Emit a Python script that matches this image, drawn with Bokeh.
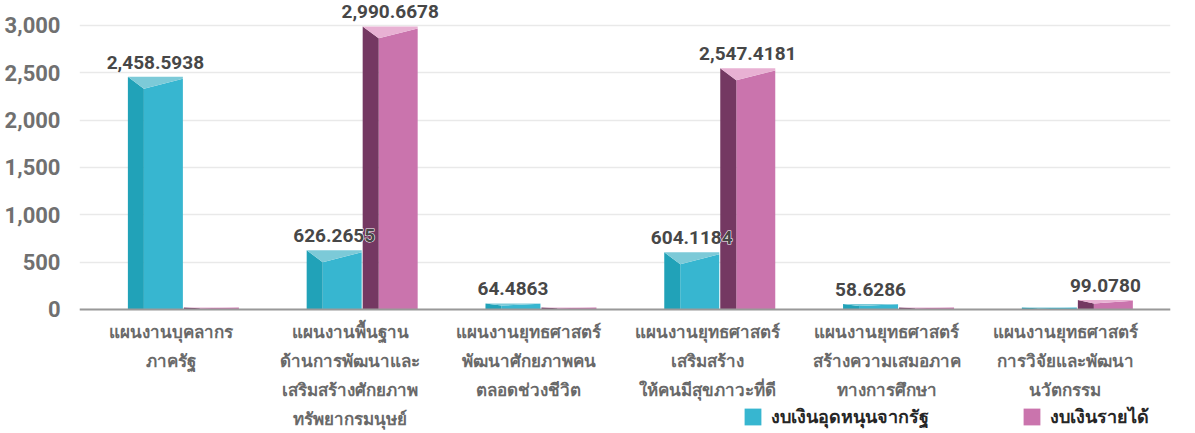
from bokeh.plotting import figure
from bokeh.models import ColumnDataSource, FixedTicker, Legend, LegendItem, NumeralTickFormatter, Span
from bokeh.core.properties import value
from bokeh.embed import file_html
from bokeh.resources import INLINE

categories = [
    "แผนงานบุคลากร\nภาครัฐ",
    "แผนงานพื้นฐาน\nด้านการพัฒนาและ\nเสริมสร้างศักยภาพ\nทรัพยากรมนุษย์",
    "แผนงานยุทธศาสตร์\nพัฒนาศักยภาพคน\nตลอดช่วงชีวิต",
    "แผนงานยุทธศาสตร์\nเสริมสร้าง\nให้คนมีสุขภาวะที่ดี",
    "แผนงานยุทธศาสตร์\nสร้างความเสมอภาค\nทางการศึกษา",
    "แผนงานยุทธศาสตร์\nการวิจัยและพัฒนา\nนวัตกรรม",
]
series_names = ["งบเงินอุดหนุนจากรัฐ", "งบเงินรายได้"]
subsidy = [2458.5938, 626.2655, 64.4863, 604.1184, 58.6286, 22.0]
income = [22.0, 2990.6678, 22.0, 2547.4181, 22.0, 99.0780]
subsidy_labels = ["2,458.5938", "626.2655", "64.4863", "604.1184", "58.6286", ""]
income_labels = ["", "2,990.6678", "", "2,547.4181", "", "99.0780"]
y_ticks = [0, 500, 1000, 1500, 2000, 2500, 3000]

NUM_FONT = "Roboto"
THAI_FONT = "Noto Sans"
W, H = 1195, 433
p = figure(width=W, height=H, output_backend="svg", toolbar_location=None,
           x_range=(-0.581, 5.521), y_range=(-1310, 3264),
           min_border_left=79, min_border_right=25, min_border_top=0, min_border_bottom=0)
p.outline_line_color = None
p.background_fill_color = "white"
p.xaxis.visible = False

# pixel helpers (approx)
px_x = 1.0 / 178.8
px_y = 1.0 / 0.094667

styles = [
    dict(front="#37b6d0", dark="#21a2b8", top="#7ccad8"),
    dict(front="#ca74ad", dark="#743862", top="#e8b1d3"),
]
hw = 27.5 * px_x
offsets = [-hw - 0.5 * px_x, hw + 0.5 * px_x]
dx = 16 * px_x
legend_items = []
label_sources = []
for s, (vals, labs, off, st, name) in enumerate(zip([subsidy, income], [subsidy_labels, income_labels], offsets, styles, series_names)):
    side_x, side_y, front_x, front_y, top_x, top_y = [], [], [], [], [], []
    for i, v in enumerate(vals):
        L = i + off - hw
        R = i + off + hw
        d = min(12 * px_y, v * 0.35)
        side_x.append([L, L, L + dx, L + dx]); side_y.append([0, v, v - d, 0])
        front_x.append([L + dx, L + dx, R, R]); front_y.append([0, v - d, v - d * 0.17, 0])
        top_x.append([L, R, R, L + dx]); top_y.append([v, v, v - d * 0.17, v - d])
    r_front = p.patches(front_x, front_y, fill_color=st["front"], line_color=None)
    p.patches(side_x, side_y, fill_color=st["dark"], line_color=None)
    p.patches(top_x, top_y, fill_color=st["top"], line_color=None)
    legend_items.append(LegendItem(label=name, renderers=[r_front]))
    label_sources.append(ColumnDataSource(dict(x=[i + off for i in range(len(vals))], y=vals, t=labs)))

# value labels: white halo underneath, then the text
for src in label_sources:
    p.text(x="x", y="y", text="t", source=src, text_align="center", text_baseline="bottom",
           y_offset=-8, text_font=value(NUM_FONT), text_font_size="19px", text_font_style="bold",
           text_color="white", text_outline_color="white")
for src in label_sources:
    p.text(x="x", y="y", text="t", source=src, text_align="center", text_baseline="bottom",
           y_offset=-8, text_font=value(NUM_FONT), text_font_size="19px", text_font_style="bold",
           text_color="#474747")

# baseline (x axis line)
p.add_layout(Span(location=0, dimension="width", line_color="#999999", line_width=2))

# category labels under the baseline
cat_src = ColumnDataSource(dict(x=list(range(len(categories))), y=[0] * len(categories), t=categories))
p.text(x="x", y="y", text="t", source=cat_src, text_align="center", text_baseline="top",
       x_offset=-12, y_offset=11, text_font=value(THAI_FONT), text_font_size="17px",
       text_font_style="bold", text_color="#696969", text_line_height=1.25)

p.xgrid.grid_line_color = None
p.ygrid.grid_line_color = "#e9e9e9"
p.ygrid.grid_line_width = 1.5
p.ygrid.ticker = FixedTicker(ticks=y_ticks)

p.yaxis.ticker = FixedTicker(ticks=y_ticks)
p.yaxis.formatter = NumeralTickFormatter(format="0,0")
p.yaxis.axis_line_color = None
p.yaxis.major_tick_line_color = None
p.yaxis.minor_tick_line_color = None
p.yaxis.major_label_text_font = NUM_FONT
p.yaxis.major_label_text_font_size = "22px"
p.yaxis.major_label_text_font_style = "bold"
p.yaxis.major_label_text_color = "#707070"
p.yaxis.major_label_standoff = 13

legend = Legend(items=legend_items, orientation="horizontal", location=(663, 2),
                glyph_width=21, glyph_height=21, label_standoff=8, spacing=92,
                padding=0, margin=0, border_line_color=None, background_fill_alpha=0,
                label_text_font=THAI_FONT, label_text_font_size="18px", label_text_font_style="bold",
                label_text_color="#262626", label_height=21)
p.add_layout(legend, "center")

open("out.html", "w").write(file_html(p, INLINE))
